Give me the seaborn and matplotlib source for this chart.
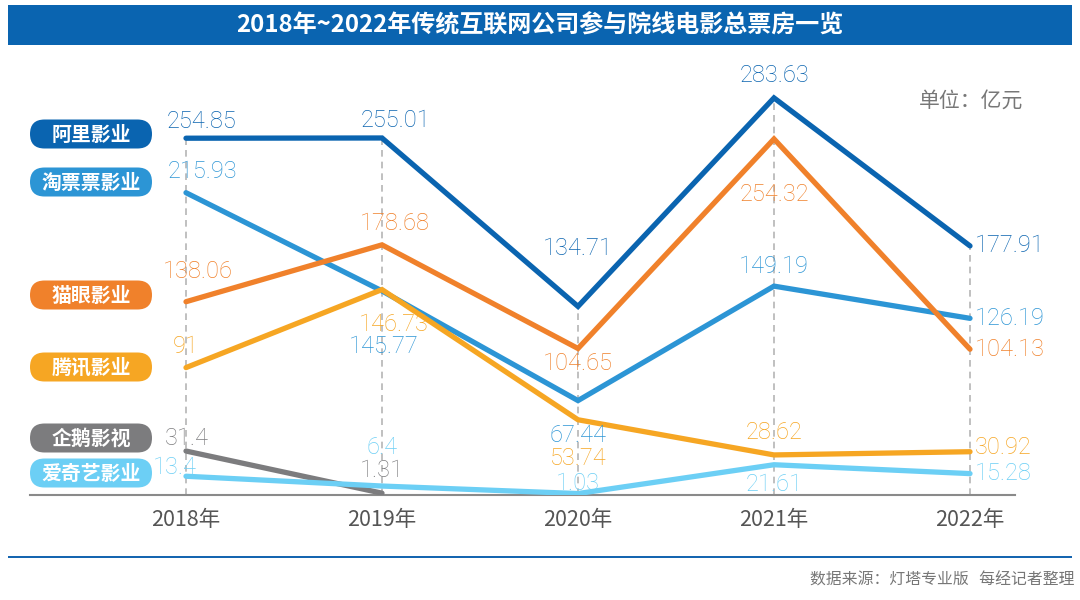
import matplotlib
matplotlib.use("Agg")
import matplotlib.pyplot as plt
from matplotlib.patches import FancyBboxPatch, Rectangle
import seaborn as sns
import pandas as pd
import numpy as np

sns.set_theme(style="white")
plt.rcParams['font.family'] = ['Noto Sans CJK SC', 'DejaVu Sans']

# ---------------- data ----------------
years = ["2018年", "2019年", "2020年", "2021年", "2022年"]
companies = ["阿里影业", "淘票票影业", "猫眼影业", "腾讯影业", "企鹅影视", "爱奇艺影业"]
ali = [254.85, 255.01, 134.71, 283.63, 177.91]
taopiaopiao = [215.93, 145.77, 67.44, 149.19, 126.19]
maoyan = [138.06, 178.68, 104.65, 254.32, 104.13]
tencent = [91, 146.73, 53.74, 28.62, 30.92]
penguin = [31.4, 1.31, None, None, None]
iqiyi = [13.4, 6.4, 1.03, 21.61, 15.28]
series_values = [ali, taopiaopiao, maoyan, tencent, penguin, iqiyi]
label_texts = [
    ["254.85", "255.01", "134.71", "283.63", "177.91"],
    ["215.93", "145.77", "67.44", "149.19", "126.19"],
    ["138.06", "178.68", "104.65", "254.32", "104.13"],
    ["91", "146.73", "53.74", "28.62", "30.92"],
    ["31.4", "1.31", None, None, None],
    ["13.4", "6.4", "1.03", "21.61", "15.28"],
]
title = "2018年~2022年传统互联网公司参与院线电影总票房一览"
unit_text = "单位：亿元"
source_text = "数据来源：灯塔专业版   每经记者整理"

# ---------------- styling ----------------
colors = ["#0a64b0", "#2c95d5", "#f0812b", "#f6a623", "#7c7c7e", "#6ccff5"]
# label offsets in pixels (dx, dy_down) and horizontal alignment
offsets = [
    [(15, -17, 'center'), (13, -17, 'center'), (0, -58, 'center'), (0, -22, 'center'), (5, 0, 'left')],
    [(16, -21, 'center'), (2, 56, 'center'), (0, 35, 'center'), (0, -20, 'center'), (5, 0, 'left')],
    [(12, -30, 'center'), (13, -21, 'center'), (0, 15, 'center'), (0, 56, 'center'), (5, 0, 'left')],
    [(0, -21, 'center'), (12, 35, 'center'), (0, 39, 'center'), (0, -22, 'center'), (5, -4, 'left')],
    [(1, -13, 'center'), (0, -23, 'center'), None, None, None],
    [(-11, -9, 'center'), (0, -39, 'center'), (0, -10, 'center'), (0, 20, 'center'), (5, 0, 'left')],
]
pill_y = [134, 182, 295, 367, 438, 473]   # pixel centers

W, H = 1080, 600
fig = plt.figure(figsize=(10.8, 6.0), dpi=100)
fig.patch.set_facecolor("white")

# axes placement: x index 0 -> px 186, step 196 ; y=0 -> px 495, 1.4 px per unit
left_px, right_px, bottom_px, top_px = 30, 1015, 495, 60
ax = fig.add_axes([left_px / W, 1 - bottom_px / H, (right_px - left_px) / W, (bottom_px - top_px) / H])
ax.set_xlim((left_px - 186) / 196, (right_px - 186) / 196)
ax.set_ylim(0, (bottom_px - top_px) / 1.4)

rows = []
for comp, vals in zip(companies, series_values):
    for i, v in enumerate(vals):
        if v is not None:
            rows.append({"company": comp, "x": i, "value": v})
df = pd.DataFrame(rows)

# vertical dashed guides up to the highest value at each year
for i in range(len(years)):
    vmax = df.loc[df["x"] == i, "value"].max()
    ax.vlines(i, 0, vmax, colors="#b5b5b5", linestyles=(0, (4, 3)), linewidth=1.2, zorder=1)

sns.lineplot(data=df, x="x", y="value", hue="company", hue_order=companies,
             palette=dict(zip(companies, colors)), linewidth=3.8, legend=False,
             ax=ax, zorder=3, sort=True)
for line in ax.lines:
    line.set_solid_capstyle("round")
    line.set_solid_joinstyle("miter")

# value labels
for vals, texts, offs, col in zip(series_values, label_texts, offsets, colors):
    for i, (v, t, o) in enumerate(zip(vals, texts, offs)):
        if v is None:
            continue
        dx, dy, ha = o
        ax.annotate(t, (i, v), xytext=(dx, -dy), textcoords="offset pixels",
                    ha=ha, va="center", fontsize=17, color=col, fontweight="light",
                    family=["Roboto", "DejaVu Sans"], zorder=5)

ax.set_xticks(range(len(years)))
ax.set_xticklabels(years, fontsize=15.5, color="#555555")
ax.tick_params(axis="x", length=0, pad=10)
ax.set_yticks([])
ax.set_xlabel("")
ax.set_ylabel("")
for s in ["top", "right", "left"]:
    ax.spines[s].set_visible(False)
ax.spines["bottom"].set_color("#8a8a8a")
ax.spines["bottom"].set_linewidth(1.5)
ax.spines["bottom"].set_zorder(2)
ax.patch.set_alpha(0)

# title bar
fig.patches.append(Rectangle((8 / W, 1 - 45 / H), 1064 / W, 40 / H, transform=fig.transFigure,
                             facecolor="#0a64b0", edgecolor="none", zorder=0))
fig.text(540 / W, 1 - 25 / H, title, ha="center", va="center", color="white",
         fontsize=17.3, fontweight="bold")

# unit
fig.text(1023 / W, 1 - 101 / H, unit_text, ha="right", va="center", color="#777777", fontsize=15)

# series pills
for comp, col, py in zip(companies, colors, pill_y):
    h = 29
    fig.patches.append(FancyBboxPatch((30 / W, 1 - (py + h / 2) / H), 122 / W, h / H,
                                      boxstyle=f"round,pad=0,rounding_size={14.5 / W}",
                                      transform=fig.transFigure, facecolor=col,
                                      edgecolor="none", zorder=0, mutation_aspect=W / H))
    fig.text(91 / W, 1 - py / H, comp, ha="center", va="center", color="white",
             fontsize=14.3, fontweight="bold")

# bottom rule and source
fig.patches.append(Rectangle((8 / W, 1 - 558 / H), 1064 / W, 2.5 / H, transform=fig.transFigure,
                             facecolor="#1565b0", edgecolor="none"))
fig.text(1075 / W, 1 - 580 / H, source_text, ha="right", va="center", color="#777777", fontsize=11.4)

fig.savefig("out.png", dpi=100)
